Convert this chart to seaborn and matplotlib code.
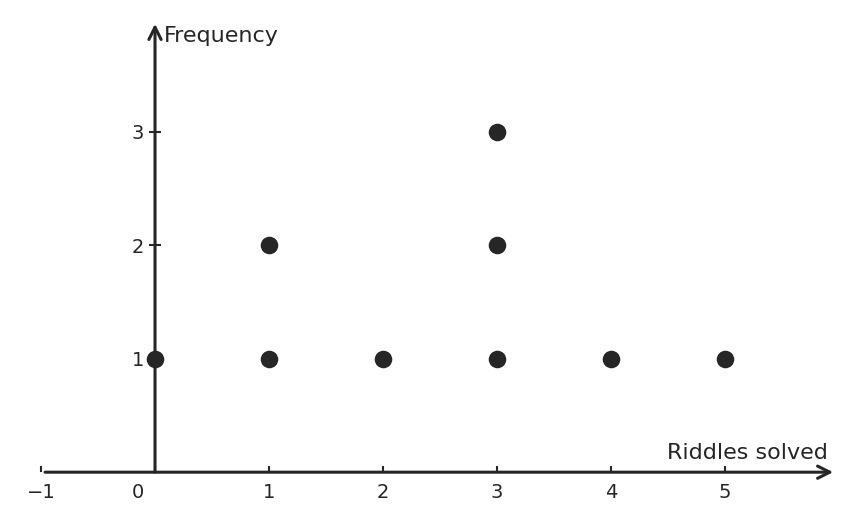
import matplotlib
matplotlib.use('Agg')
import matplotlib.pyplot as plt
import seaborn as sns
import pandas as pd

riddles_solved = [0, 1, 2, 3, 4, 5]
frequency = [1, 2, 1, 3, 1, 1]
x_ticks = [-1, 0, 1, 2, 3, 4, 5]
y_ticks = [1, 2, 3]

# one dot per count, stacked
rows = []
for r, f in zip(riddles_solved, frequency):
    for k in range(1, f + 1):
        rows.append({'riddles': r, 'level': k})
dots = pd.DataFrame(rows)

sns.set_theme(style='white')
plt.rcParams['font.family'] = ['DejaVu Sans']
ink = '#262626'

fig = plt.figure(figsize=(8.56, 5.21), dpi=100)
ax = fig.add_axes([0, 0, 1, 1])
ax.set_xlim(-1.36, 6.15)
ax.set_ylim(-0.43, 4.16)

sns.scatterplot(data=dots, x='riddles', y='level', color=ink, s=160,
                linewidth=0, ax=ax, zorder=5, clip_on=False)

for s in ['top', 'right', 'left', 'bottom']:
    ax.spines[s].set_visible(False)
ax.spines['left'].set_position(('data', 0))
ax.spines['bottom'].set_position(('data', 0))

ax.annotate('', xy=(5.95, 0), xytext=(-0.965, 0),
            arrowprops=dict(arrowstyle='->', color=ink, lw=2.2,
                            mutation_scale=22, shrinkA=0, shrinkB=0))
ax.annotate('', xy=(0, 3.95), xytext=(0, 0),
            arrowprops=dict(arrowstyle='->', color=ink, lw=2.2,
                            mutation_scale=22, shrinkA=0, shrinkB=0))

xlabels = ['\u2212' + str(-t) if t < 0 else ('' if t == 0 else str(t)) for t in x_ticks]
ax.set_xticks(x_ticks, xlabels)
ax.set_yticks(y_ticks, [str(t) for t in y_ticks])
ax.tick_params(axis='x', direction='in', length=4, width=1.5, color=ink,
               labelsize=14, labelcolor=ink, pad=8, bottom=True)
ax.tick_params(axis='y', direction='inout', length=8, width=1.5, color=ink,
               labelsize=14, labelcolor=ink, pad=4, left=True)
ax.text(-0.15, -0.095, '0', ha='center', va='top', fontsize=14, color=ink)

ax.set_xlabel('')
ax.set_ylabel('')
ax.text(0.08, 3.84, 'Frequency', ha='left', va='center', fontsize=16, color=ink)
ax.text(5.9, 0.17, 'Riddles solved', ha='right', va='center', fontsize=16, color=ink)

fig.savefig('out.png', dpi=100)
